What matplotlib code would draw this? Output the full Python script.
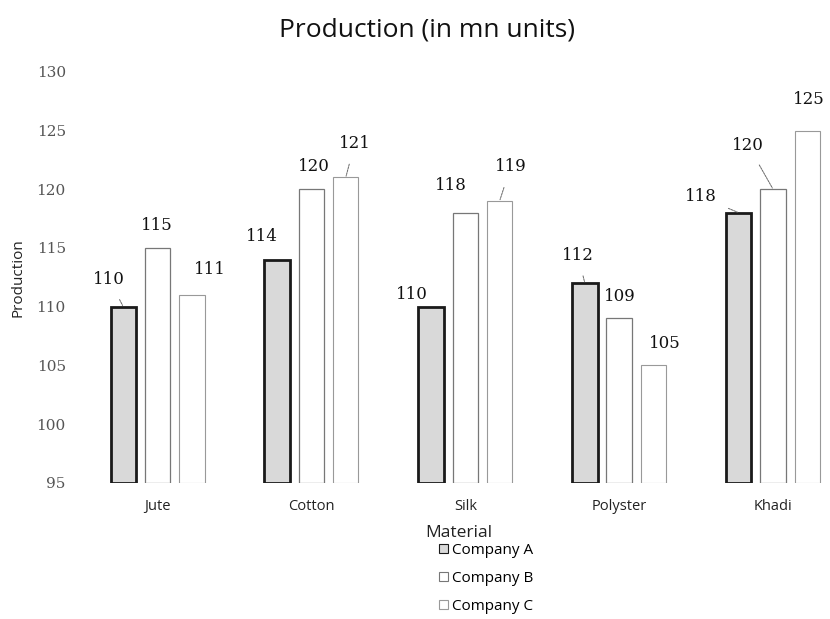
import numpy as np
import matplotlib
matplotlib.use('Agg')
import matplotlib.pyplot as plt

materials = ['Jute', 'Cotton', 'Silk', 'Polyster', 'Khadi']
companies = ['Company A', 'Company B', 'Company C']
company_a = [110, 114, 110, 112, 118]
company_b = [115, 120, 118, 109, 120]
company_c = [111, 121, 119, 105, 125]
y_ticks = [95, 100, 105, 110, 115, 120, 125, 130]

# label offsets from bar top in pixels (dx, dy) and whether a leader line is drawn
offsets_a = [(-14, 27), (-15, 23), (-19, 12), (-7, 28), (-38, 16)]
offsets_b = [(-1, 22), (2, 23), (-14, 27), (1, 22), (-25, 44)]
offsets_c = [(18, 25), (9, 34), (11, 34), (11, 22), (1, 31)]
leader_a = [True, False, False, True, True]
leader_b = [False, False, False, False, True]
leader_c = [False, True, True, False, False]

plt.rcParams['font.family'] = ['Open Sans', 'DejaVu Sans']

fig = plt.figure(figsize=(8.3, 6.19), dpi=100)
ax = fig.add_axes([0.096, 0.22, 0.904, 0.664])

x = np.arange(len(materials))
w = 0.165
step = 0.223

styles = [
    dict(facecolor='#d9d9d9', edgecolor='#1a1a1a', linewidth=2.0),
    dict(facecolor='white', edgecolor='#777777', linewidth=0.9),
    dict(facecolor='white', edgecolor='#999999', linewidth=0.8),
]
series = [company_a, company_b, company_c]
offsets = [offsets_a, offsets_b, offsets_c]
leaders = [leader_a, leader_b, leader_c]

for i, (vals, st) in enumerate(zip(series, styles)):
    pos = x + (i - 1) * step
    ax.bar(pos, np.array(vals) - 95, bottom=95, width=w, label=companies[i], **st)
    for j, v in enumerate(vals):
        dx, dy = offsets[i][j]
        ap = None
        if leaders[i][j]:
            ap = dict(arrowstyle='-', color='#666666', lw=0.7, linestyle=(0, (2, 1)),
                      shrinkA=7, shrinkB=1)
        ax.annotate(str(v), xy=(pos[j], v), xytext=(dx * 0.72, dy * 0.72),
                    textcoords='offset points', ha='center', va='center',
                    fontsize=12, family='DejaVu Serif', color='#111111',
                    arrowprops=ap)

ax.set_xlim(-0.506, 4.37)
ax.set_ylim(95, 130)
ax.set_yticks(y_ticks)
ax.set_yticklabels([str(t) for t in y_ticks], family='DejaVu Serif', color='#555555', fontsize=11)
ax.set_xticks(x)
ax.set_xticklabels(materials, fontsize=10.5, color='#222222')
ax.tick_params(axis='both', length=0)
ax.tick_params(axis='y', pad=10)
ax.tick_params(axis='x', pad=12)
for s in ax.spines.values():
    s.set_visible(False)

ax.set_ylabel('Production', fontsize=11, color='#222222')
ax.yaxis.set_label_coords(-0.072, 0.5)

fig.text(0.515, 0.951, 'Production (in mn units)', ha='center', va='center',
         fontsize=19, color='#111111')

fig.text(425 / 830, 1 - 533 / 619, 'Material', ha='left', va='center',
         fontsize=12.5, color='#222222')
leg = fig.legend(loc='upper left', bbox_to_anchor=(439 / 830, 1 - 543 / 619), frameon=False,
                 fontsize=11, handlelength=0.6, handleheight=0.6, handletextpad=0.25,
                 labelspacing=0.85, borderpad=0, borderaxespad=0)
for h in leg.legend_handles:
    h.set_linewidth(0.8)

fig.savefig('out.png', dpi=100)
